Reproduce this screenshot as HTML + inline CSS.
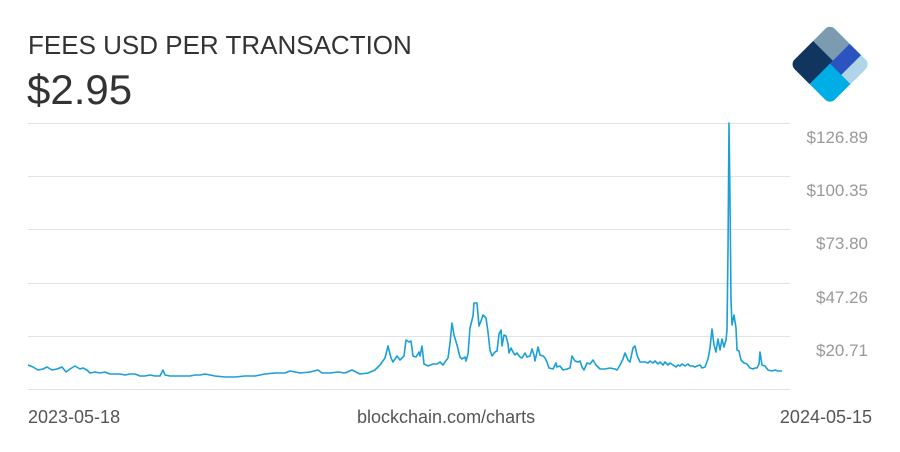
<!DOCTYPE html>
<html><head><meta charset="utf-8"><style>
html,body{margin:0;padding:0;background:#fff;}
body{width:900px;height:452px;position:relative;overflow:hidden;font-family:"Liberation Sans",sans-serif;}
.t{position:absolute;left:28px;top:30px;font-size:26px;color:#333;}
.v{position:absolute;left:27px;top:66px;font-size:42px;color:#333;}
.b{position:absolute;top:407px;font-size:18px;color:#555;}
</style></head><body>
<div class="t">FEES USD PER TRANSACTION</div>
<div class="v">$2.95</div>
<svg width="900" height="452" style="position:absolute;left:0;top:0">
<g transform="translate(830,24) rotate(45)">
<clipPath id="c"><rect x="0" y="0" width="57" height="57" rx="7"/></clipPath>
<g clip-path="url(#c)">
<rect x="0" y="0" width="57" height="57" fill="#00aee6"/>
<rect x="0" y="0" width="28" height="24" fill="#7c9bb1"/>
<rect x="0" y="24" width="28" height="33" fill="#123560"/>
<rect x="28" y="0" width="16" height="28" fill="#2b54c0"/>
<rect x="44" y="0" width="13" height="28" fill="#b1d5e8"/>
</g></g>
<g stroke="#e3e3e3" stroke-width="1">
<line x1="28" x2="790" y1="123.5" y2="123.5"/><line x1="28" x2="790" y1="176.5" y2="176.5"/>
<line x1="28" x2="790" y1="229.5" y2="229.5"/><line x1="28" x2="790" y1="283.5" y2="283.5"/>
<line x1="28" x2="790" y1="336.5" y2="336.5"/><line x1="28" x2="790" y1="389.5" y2="389.5"/>
</g>
<g fill="#999" font-size="17" text-anchor="end" font-family="Liberation Sans,sans-serif">
<text x="868" y="143">$126.89</text><text x="868" y="196">$100.35</text>
<text x="868" y="249">$73.80</text><text x="868" y="303">$47.26</text><text x="868" y="356">$20.71</text>
</g>
<polyline fill="none" stroke="#1a9fd9" stroke-width="1.6" stroke-linejoin="round" points="28,365 33,367 38,370 43,369 47,367 52,370 57,369 62,367 66,372 70,369 75,366 80,369 83,368 87,370 90,373 95,372 100,373 105,372 110,374 115,374 120,374 125,375 130,374 135,374 140,376 145,376 150,375 155,376 160,376 163,370 165,375 170,376 180,376 190,376 195,375 200,375 205,374 215,376 225,377 235,377 245,376 255,376 265,374 275,373 285,373 290,371 300,373 310,372 318,370 322,373 330,373 338,372 345,373 352,370 360,374 368,373 375,370 380,365 385,358 388,346 391,358 393,362 397,356 400,360 404,356 406,340 409,342 411,341 413,356 416,357 419,352 420,356 422,346 424,364 428,366 433,364 437,364 440,362 443,365 445,362 448,358 450,343 452,323 454,335 457,345 460,357 462,359 465,357 466,361 468,354 470,328 473,316 474,303 477,303 479,326 481,321 483,315 486,318 488,332 490,350 492,356 495,352 497,351 499,334 501,330 502,346 504,335 506,336 508,344 509,353 511,348 513,352 515,355 517,353 520,357 522,358 525,353 527,357 530,356 532,349 534,355 535,361 537,352 538,347 540,355 543,356 545,358 547,362 549,368 553,369 556,363 557,367 560,366 563,370 567,369 570,368 572,356 575,361 578,362 580,361 582,367 584,370 587,363 590,364 593,360 596,365 600,369 605,369 610,368 615,369 617,370 620,365 623,359 625,353 628,360 630,362 633,348 635,346 637,355 640,362 645,362 648,363 650,361 653,363 655,361 658,364 660,362 663,365 665,362 668,365 670,363 673,365 676,367 678,365 680,366 682,364 685,366 688,364 690,366 693,366 695,367 697,366 700,365 702,368 705,367 708,359 710,348 712,329 714,345 716,352 718,339 720,350 722,339 724,347 726,340 727,330 728,250 729,123 730,200 731,300 732,325 734,315 736,328 737,350 739,351 741,360 744,363 747,364 750,368 753,369 755,368 757,368 759,364 760,352 762,365 765,366 768,370 772,371 775,370 778,371 782,371"/>
</svg>
<div class="b" style="left:28px">2023-05-18</div>
<div class="b" style="left:357px">blockchain.com/charts</div>
<div class="b" style="right:28px">2024-05-15</div>
</body></html>
